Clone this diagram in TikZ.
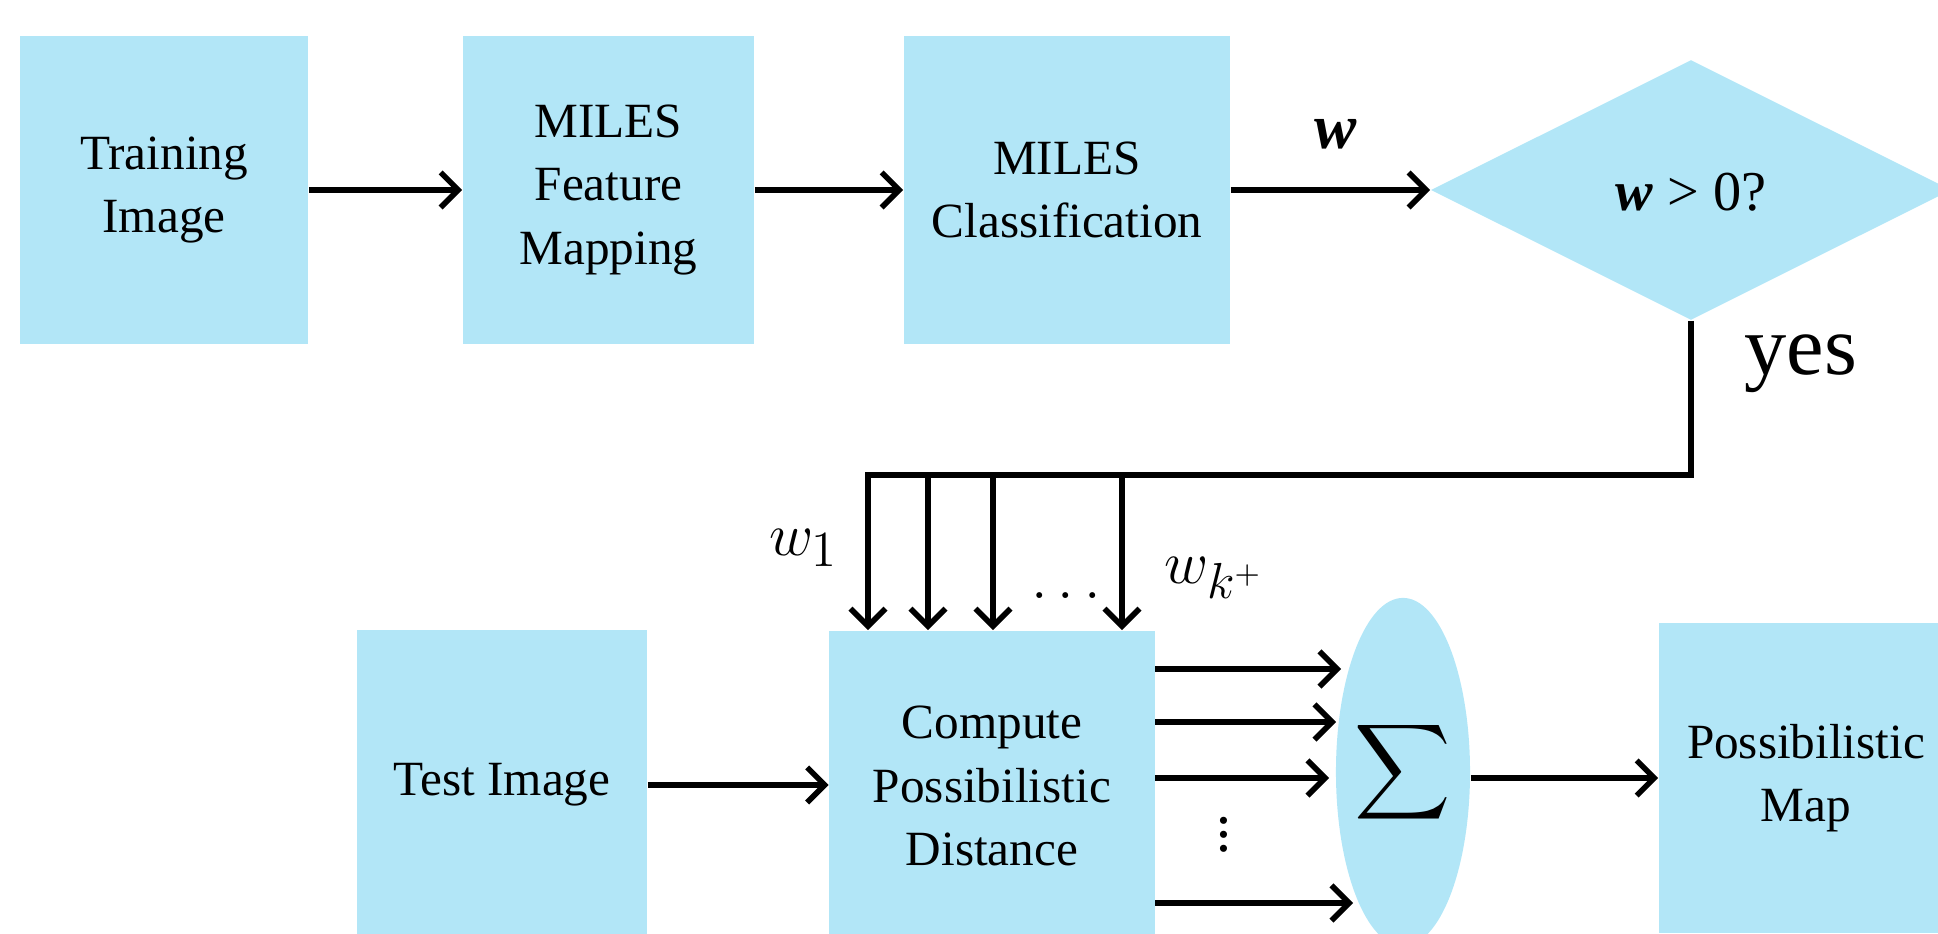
\documentclass[tikz,border=0pt]{standalone}
\usepackage{fontspec}
\setmainfont{Liberation Serif}
\newfontfamily\tms{Liberation Serif}
\usetikzlibrary{shapes.geometric,arrows.meta}
\definecolor{boxblue}{RGB}{178,230,247}
\tikzset{
  blk/.style={fill=boxblue, draw=none, inner sep=0pt, align=center,
    font=\fontsize{14}{18}\selectfont, minimum height=3.08cm},
  arr/.style={-{Straight Barb[length=5pt,width=10pt,line width=1.6pt]}, line width=1.6pt},
  lbl/.style={inner sep=0pt}
}
\begin{document}
\begin{tikzpicture}[x=0.01cm,y=-0.01cm]
\clip (0,0) rectangle (1938,934);
% top row
\node[blk, minimum width=2.88cm] (train) at (164,190) {Training\\Image};
\node[blk, minimum width=2.91cm] (fmap) at (608.5,190) {MILES\\Feature\\Mapping};
\node[blk, minimum width=3.26cm] (cls) at (1067,190) {MILES\\Classification};
\node[diamond, fill=boxblue, draw=none, inner sep=0pt, shape aspect=2,
      minimum width=5.2cm, minimum height=2.6cm] (dia) at (1691,190) {};
\node[lbl, font=\tms\fontsize{16}{20}\selectfont] (cond) at (1691,192) {\textbf{\textit{w}} > 0?};
\node[lbl, font=\tms\fontsize{18}{20}\selectfont] (wlab) at (1336,134) {\textbf{\textit{w}}};
\node[lbl, font=\tms\fontsize{24}{28}\selectfont] (yes) at (1801,364) {yes};
% bottom row
\node[blk, minimum width=2.90cm, minimum height=3.10cm] (test) at (502,785) {Test Image};
\node[blk, minimum width=3.25cm, minimum height=3.10cm] (comp) at (992,786) {Compute\\Possibilistic\\Distance};
\node[ellipse, fill=boxblue, draw=none, inner sep=0pt, minimum width=1.34cm,
      minimum height=3.48cm] (ell) at (1403,772) {};
\node[lbl] (sig) at (ell.center) {\scalebox{1.9}{$\displaystyle\sum$}};
\node[blk, minimum width=2.94cm, minimum height=3.10cm] (pmap) at (1806,778) {Possibilistic\\Map};
% labels
\node[lbl, font=\fontsize{19}{20}\selectfont] (w1) at (804,548) {$w_1$};
\node[lbl, font=\fontsize{19}{20}\selectfont] (wk) at (1214,578) {$w_{k^+}$};
\node[lbl, font=\fontsize{18}{18}\selectfont] (hd) at (1066,596) {$\dots$};
\node[lbl, font=\fontsize{17}{18}\selectfont] (vd) at (1224,824) {$\vdots$};
% coordinates
\coordinate (b1) at (868,475);
\coordinate (b2) at (928,475);
\coordinate (b3) at (993,475);
\coordinate (b4) at (1122,475);
\coordinate (e1) at (1341,669);
\coordinate (e2) at (1336,722);
\coordinate (e3) at (1329,778);
\coordinate (e4) at (1353,903);
% connectors
\draw[arr] (train) -- (fmap);
\draw[arr] (fmap) -- (cls);
\draw[arr] (cls) -- (dia.west);
\draw[arr] (dia.south) |- (b1) -- (b1 |- comp.north);
\draw[arr] (b2) -- (b2 |- comp.north);
\draw[arr] (b3) -- (b3 |- comp.north);
\draw[arr] (b4) -- (b4 |- comp.north);
\draw[arr] (test) -- (test -| comp.west);
\draw[arr] (comp.east |- e1) -- (e1);
\draw[arr] (comp.east |- e2) -- (e2);
\draw[arr] (comp.east |- e3) -- (e3);
\draw[arr] (comp.east |- e4) -- (e4);
\draw[arr] (pmap.west -| ell.east) -- (pmap.west);
\end{tikzpicture}
\end{document}
